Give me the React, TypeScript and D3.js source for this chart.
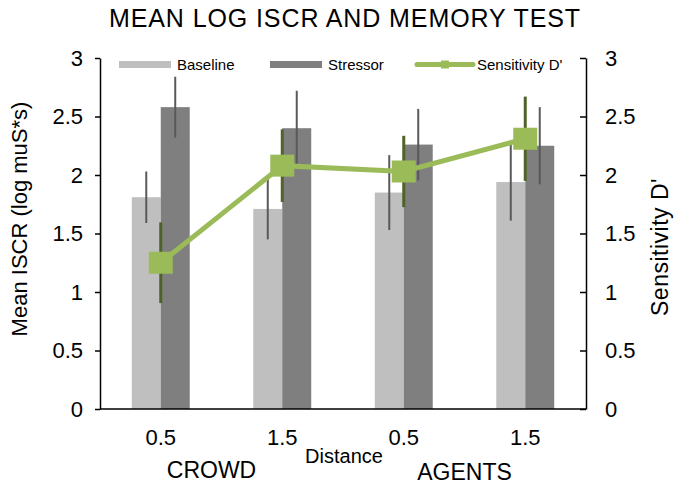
import React, { useEffect, useRef } from 'react';
import * as d3 from 'd3';

const categories = ['0.5 CROWD', '1.5 CROWD', '0.5 AGENTS', '1.5 AGENTS'];
const tickLabels = ['0.5', '1.5', '0.5', '1.5'];
const groups = ['CROWD', 'AGENTS'];
const seriesNames = ['Baseline', 'Stressor'];
const baseline = [1.81, 1.71, 1.85, 1.94];
const baselineErr = [0.22, 0.26, 0.32, 0.33];
const stressor = [2.58, 2.4, 2.26, 2.25];
const stressorErr = [0.26, 0.32, 0.305, 0.33];
const sensitivity = [1.25, 2.08, 2.03, 2.31];
const sensitivityErr = [0.345, 0.31, 0.305, 0.36];
const yTicks = [0, 0.5, 1, 1.5, 2, 2.5, 3];

const W = 689;
const H = 489;
const FONT = '"Liberation Sans", Arial, sans-serif';
const colors = { Baseline: '#BFBFBF', Stressor: '#7F7F7F' };
const green = '#9BBB59';
const darkGreen = '#4F6228';

const App = () => {
  const svgRef = useRef(null);

  useEffect(() => {
    const svg = d3.select(svgRef.current);
    svg.selectAll('*').remove();

    const left = 100, right = 586, top = 58, bottom = 409;

    const x = d3.scaleBand()
      .domain(categories)
      .range([left, right])
      .paddingInner(0.523)
      .paddingOuter(0.2615);
    const xs = d3.scaleBand().domain(seriesNames).range([0, x.bandwidth()]);
    const y = d3.scaleLinear().domain([0, 3]).range([bottom, top]);
    const y2 = d3.scaleLinear().domain([0, 3]).range([bottom, top]);

    // title
    svg.append('text')
      .attr('x', 345).attr('y', 27)
      .attr('text-anchor', 'middle')
      .style('font-family', FONT).style('font-size', '25px')
      .style('letter-spacing', '0.9px')
      .text('MEAN LOG ISCR AND MEMORY TEST');

    // bars
    const rows = categories.map((c, i) => ({
      cat: c,
      vals: [
        { s: 'Baseline', v: baseline[i], e: baselineErr[i] },
        { s: 'Stressor', v: stressor[i], e: stressorErr[i] }
      ]
    }));

    const gBars = svg.append('g');
    rows.forEach(r => {
      gBars.selectAll(null)
        .data(r.vals)
        .enter().append('rect')
        .attr('x', d => x(r.cat) + xs(d.s))
        .attr('y', d => y(d.v))
        .attr('width', xs.bandwidth())
        .attr('height', d => y(0) - y(d.v))
        .style('fill', d => colors[d.s]);
      gBars.selectAll(null)
        .data(r.vals)
        .enter().append('line')
        .attr('x1', d => x(r.cat) + xs(d.s) + xs.bandwidth() / 2)
        .attr('x2', d => x(r.cat) + xs(d.s) + xs.bandwidth() / 2)
        .attr('y1', d => y(d.v + d.e))
        .attr('y2', d => y(d.v - d.e))
        .style('stroke', '#595959')
        .style('stroke-width', 2);
    });

    // axes
    const yl = svg.append('g')
      .attr('transform', `translate(${left},0)`)
      .call(d3.axisLeft(y).tickValues(yTicks).tickSizeInner(5).tickSizeOuter(0).tickPadding(12).tickFormat(d3.format('')));
    const yr = svg.append('g')
      .attr('transform', `translate(${right},0)`)
      .call(d3.axisRight(y2).tickValues(yTicks).tickSizeInner(-6).tickSizeOuter(0).tickPadding(19).tickFormat(d3.format('')));
    [yl, yr].forEach(a => {
      a.selectAll('path, line').style('stroke', '#000').style('stroke-width', 1.5);
      a.selectAll('text').style('font-family', FONT).style('font-size', '22px').style('fill', '#000');
    });

    svg.append('line')
      .attr('x1', left).attr('x2', right)
      .attr('y1', bottom).attr('y2', bottom)
      .style('stroke', '#000').style('stroke-width', 1.5);

    // sensitivity line
    const pts = categories.map((c, i) => ({ cat: c, v: sensitivity[i], e: sensitivityErr[i] }));
    const cx = d => x(d.cat) + x.bandwidth() / 2;

    svg.append('g').selectAll('line')
      .data(pts)
      .enter().append('line')
      .attr('x1', cx).attr('x2', cx)
      .attr('y1', d => y2(d.v + d.e))
      .attr('y2', d => y2(d.v - d.e))
      .style('stroke', darkGreen)
      .style('stroke-width', 3);

    svg.append('path')
      .datum(pts)
      .attr('d', d3.line().x(cx).y(d => y2(d.v)))
      .style('fill', 'none')
      .style('stroke', green)
      .style('stroke-width', 5);

    svg.append('g').selectAll('rect')
      .data(pts)
      .enter().append('rect')
      .attr('x', d => cx(d) - 12)
      .attr('y', d => y2(d.v) - 11)
      .attr('width', 24)
      .attr('height', 22)
      .style('fill', green);

    // x labels
    svg.append('g').selectAll('text')
      .data(categories)
      .enter().append('text')
      .attr('x', d => x(d) + x.bandwidth() / 2)
      .attr('y', 445)
      .attr('text-anchor', 'middle')
      .style('font-family', FONT).style('font-size', '22px')
      .text((d, i) => tickLabels[i]);

    svg.append('g').selectAll('text')
      .data(groups)
      .enter().append('text')
      .attr('x', (d, i) => (x(categories[i * 2]) + x(categories[i * 2 + 1]) + x.bandwidth()) / 2 + (i === 0 ? -10 : 0))
      .attr('y', (d, i) => (i === 0 ? 478 : 480))
      .attr('text-anchor', 'middle')
      .style('font-family', FONT).style('font-size', '23px')
      .text(d => d);

    svg.append('text')
      .attr('x', 344).attr('y', 463)
      .attr('text-anchor', 'middle')
      .style('font-family', FONT).style('font-size', '20px')
      .text('Distance');

    // axis titles
    svg.append('text')
      .attr('transform', 'translate(27,219) rotate(-90)')
      .attr('text-anchor', 'middle')
      .style('font-family', FONT).style('font-size', '22px')
      .text('Mean ISCR (log muS*s)');
    svg.append('text')
      .attr('transform', 'translate(668,247) rotate(-90)')
      .attr('text-anchor', 'middle')
      .style('font-family', FONT).style('font-size', '23px')
      .style('letter-spacing', '0.5px')
      .text("Sensitivity D'");

    // legend
    const leg = svg.append('g');
    const legItems = [
      { name: 'Baseline', x: 119 },
      { name: 'Stressor', x: 270 }
    ];
    legItems.forEach(it => {
      leg.append('rect')
        .attr('x', it.x).attr('y', 61)
        .attr('width', 52).attr('height', 7)
        .style('fill', colors[it.name]);
      leg.append('text')
        .attr('x', it.x + 58).attr('y', 70)
        .style('font-family', FONT).style('font-size', '15px')
        .text(it.name);
    });
    leg.append('line')
      .attr('x1', 417).attr('x2', 473)
      .attr('y1', 64.5).attr('y2', 64.5)
      .style('stroke', green).style('stroke-width', 5)
      .style('stroke-linecap', 'round');
    leg.append('rect')
      .attr('x', 441).attr('y', 60.5)
      .attr('width', 8).attr('height', 8)
      .style('fill', green);
    leg.append('text')
      .attr('x', 477).attr('y', 70)
      .style('font-family', FONT).style('font-size', '15px')
      .text('Sensitivity D\'');
  }, []);

  return (
    <svg ref={svgRef} width={W} height={H} style={{ position: 'absolute', left: 0, top: 0, background: '#fff' }}></svg>
  );
};

export default App;
